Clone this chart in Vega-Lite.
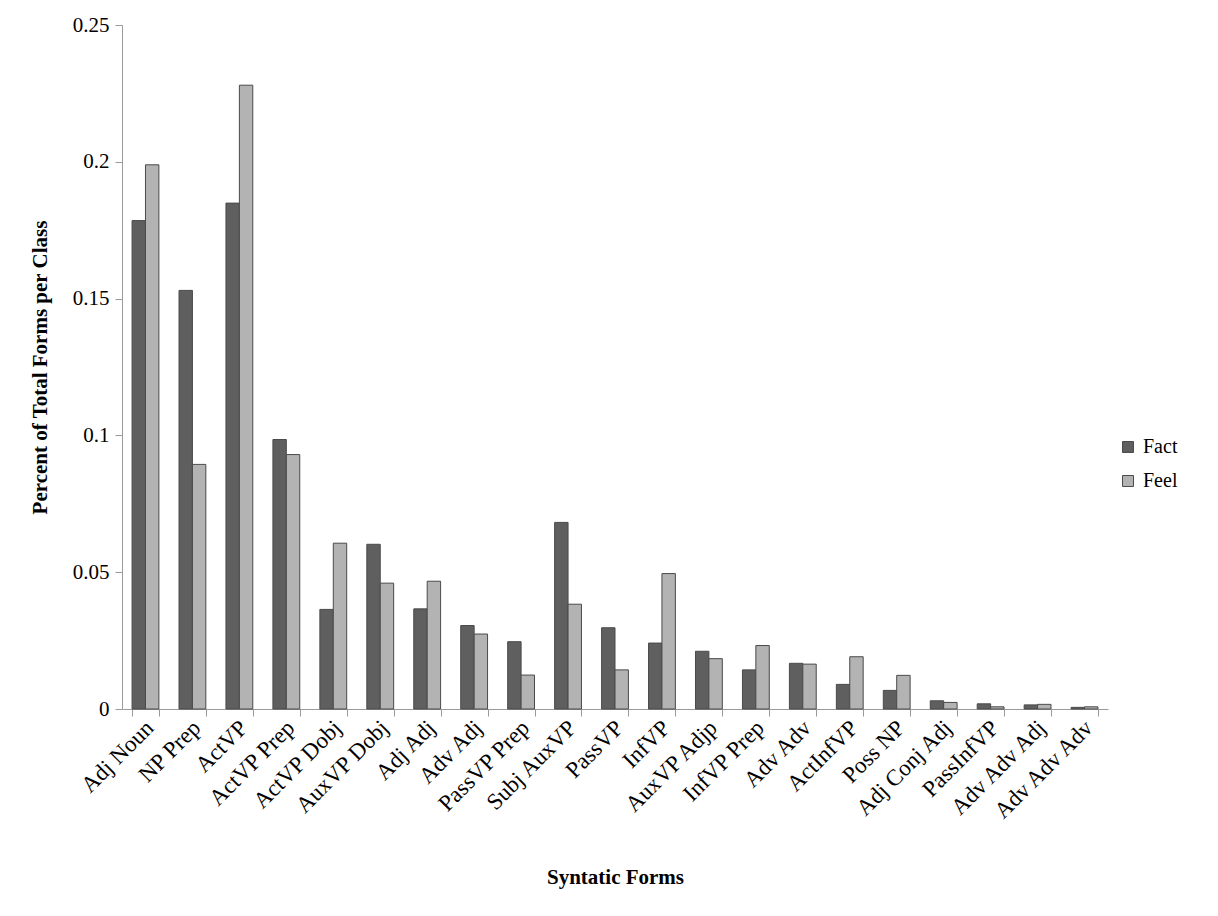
{
  "$schema": "https://vega.github.io/schema/vega-lite/v6.json",
  "width": 986,
  "height": 684,
  "autosize": "none",
  "padding": {"left": 122, "top": 25, "right": 110, "bottom": 207},
  "background": "white",
  "config": {
    "view": {"stroke": null},
    "font": "Liberation Serif"
  },
  "data": {
    "values": [
      {"form": "Adj Noun", "class": "Fact", "value": 0.1785},
      {"form": "Adj Noun", "class": "Feel", "value": 0.1989},
      {"form": "NP Prep", "class": "Fact", "value": 0.153},
      {"form": "NP Prep", "class": "Feel", "value": 0.0894},
      {"form": "ActVP", "class": "Fact", "value": 0.1849},
      {"form": "ActVP", "class": "Feel", "value": 0.228},
      {"form": "ActVP Prep", "class": "Fact", "value": 0.0985},
      {"form": "ActVP Prep", "class": "Feel", "value": 0.093},
      {"form": "ActVP Dobj", "class": "Fact", "value": 0.0364},
      {"form": "ActVP Dobj", "class": "Feel", "value": 0.0606},
      {"form": "AuxVP Dobj", "class": "Fact", "value": 0.0602},
      {"form": "AuxVP Dobj", "class": "Feel", "value": 0.046},
      {"form": "Adj Adj", "class": "Fact", "value": 0.0366},
      {"form": "Adj Adj", "class": "Feel", "value": 0.0467},
      {"form": "Adv Adj", "class": "Fact", "value": 0.0305},
      {"form": "Adv Adj", "class": "Feel", "value": 0.0274},
      {"form": "PassVP Prep", "class": "Fact", "value": 0.0246},
      {"form": "PassVP Prep", "class": "Feel", "value": 0.0124},
      {"form": "Subj AuxVP", "class": "Fact", "value": 0.0682},
      {"form": "Subj AuxVP", "class": "Feel", "value": 0.0383},
      {"form": "PassVP", "class": "Fact", "value": 0.0297},
      {"form": "PassVP", "class": "Feel", "value": 0.0143},
      {"form": "InfVP", "class": "Fact", "value": 0.0241},
      {"form": "InfVP", "class": "Feel", "value": 0.0495},
      {"form": "AuxVP Adjp", "class": "Fact", "value": 0.0211},
      {"form": "AuxVP Adjp", "class": "Feel", "value": 0.0184},
      {"form": "InfVP Prep", "class": "Fact", "value": 0.0143},
      {"form": "InfVP Prep", "class": "Feel", "value": 0.0232},
      {"form": "Adv Adv", "class": "Fact", "value": 0.0167},
      {"form": "Adv Adv", "class": "Feel", "value": 0.0164},
      {"form": "ActInfVP", "class": "Fact", "value": 0.009},
      {"form": "ActInfVP", "class": "Feel", "value": 0.0191},
      {"form": "Poss NP", "class": "Fact", "value": 0.0068},
      {"form": "Poss NP", "class": "Feel", "value": 0.0123},
      {"form": "Adj Conj Adj", "class": "Fact", "value": 0.003},
      {"form": "Adj Conj Adj", "class": "Feel", "value": 0.0024},
      {"form": "PassInfVP", "class": "Fact", "value": 0.0019},
      {"form": "PassInfVP", "class": "Feel", "value": 0.0008},
      {"form": "Adv Adv Adj", "class": "Fact", "value": 0.0015},
      {"form": "Adv Adv Adj", "class": "Feel", "value": 0.0017},
      {"form": "Adv Adv Adv", "class": "Fact", "value": 0.0006},
      {"form": "Adv Adv Adv", "class": "Feel", "value": 0.0008}
    ]
  },
  "mark": {"type": "bar", "stroke": "#4a4a4a", "strokeWidth": 1},
  "encoding": {
    "x": {
      "field": "form",
      "type": "nominal",
      "sort": null,
      "scale": {"paddingInner": 0.4286, "paddingOuter": 0.2143},
      "axis": {
        "title": "Syntatic Forms",
        "titleFont": "Liberation Serif",
        "titleFontWeight": "bold",
        "titleFontSize": 21,
        "titleColor": "black",
        "titleY": 157,
        "labelAngle": -45,
        "labelAlign": "right",
        "labelBaseline": "middle",
        "labelFont": "Liberation Serif",
        "labelFontSize": 23,
        "labelColor": "black",
        "labelPadding": 8,
        "labelOffset": 4,
        "tickBand": "extent",
        "tickSize": 7,
        "tickColor": "#9a9a9a",
        "domainColor": "#9a9a9a",
        "grid": false
      }
    },
    "xOffset": {"field": "class", "type": "nominal", "scale": {"paddingInner": 0, "paddingOuter": 0}},
    "y": {
      "field": "value",
      "type": "quantitative",
      "scale": {"domain": [0, 0.25]},
      "axis": {
        "title": "Percent of Total Forms per Class",
        "titleFont": "Liberation Serif",
        "titleFontWeight": "bold",
        "titleFontSize": 21,
        "titleColor": "black",
        "titleX": -72,
        "values": [0, 0.05, 0.1, 0.15, 0.2, 0.25],
        "labelExpr": "datum.value == 0 ? '0' : format(datum.value, '')",
        "labelFont": "Liberation Serif",
        "labelFontSize": 21,
        "labelColor": "black",
        "labelPadding": 6,
        "tickSize": 7,
        "tickColor": "#9a9a9a",
        "domainColor": "#9a9a9a",
        "grid": false
      }
    },
    "color": {
      "field": "class",
      "type": "nominal",
      "scale": {"domain": ["Fact", "Feel"], "range": ["#5f5f5f", "#b3b3b3"]},
      "legend": {
        "title": null,
        "orient": "none",
        "legendX": 996,
        "legendY": 412,
        "symbolType": "square",
        "symbolSize": 120,
        "symbolStrokeColor": "#4a4a4a",
        "symbolStrokeWidth": 1,
        "labelFont": "Liberation Serif",
        "labelFontSize": 20,
        "labelColor": "black",
        "rowPadding": 14,
        "labelOffset": 5
      }
    }
  }
}
